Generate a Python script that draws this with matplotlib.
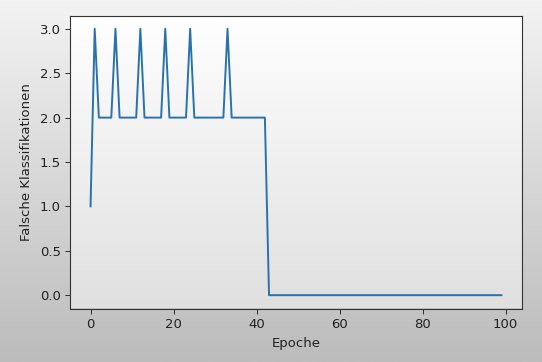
import numpy as np
import matplotlib
matplotlib.use("Agg")
import matplotlib.pyplot as plt
from matplotlib.colors import LinearSegmentedColormap

# Data: misclassifications per epoch (0..99)
epochs = list(range(100))
errors = [1, 3, 2, 2, 2, 2, 3, 2, 2, 2,
          2, 2, 3, 2, 2, 2, 2, 2, 3, 2,
          2, 2, 2, 2, 3, 2, 2, 2, 2, 2,
          2, 2, 2, 3, 2, 2, 2, 2, 2, 2,
          2, 2, 2, 0, 0, 0, 0, 0, 0, 0,
          0, 0, 0, 0, 0, 0, 0, 0, 0, 0,
          0, 0, 0, 0, 0, 0, 0, 0, 0, 0,
          0, 0, 0, 0, 0, 0, 0, 0, 0, 0,
          0, 0, 0, 0, 0, 0, 0, 0, 0, 0,
          0, 0, 0, 0, 0, 0, 0, 0, 0, 0]
x_label = "Epoche"
y_label = "Falsche Klassifikationen"

W, H = 542, 362
fig = plt.figure(figsize=(W / 100, H / 100), dpi=100)

# screenshot-like gradient background
grad = np.linspace(0, 1, 256).reshape(-1, 1)
bg = fig.add_axes([0, 0, 1, 1], zorder=-2)
bg.imshow(grad, aspect="auto", extent=[0, 1, 0, 1],
          cmap=LinearSegmentedColormap.from_list("o", ["#f3f3f3", "#bcbcbc"]))
bg.axis("off")

pos = [70 / W, (H - 308.5) / H, 452 / W, 293 / H]
bg2 = fig.add_axes(pos, zorder=-1)
bg2.imshow(grad, aspect="auto", extent=[0, 1, 0, 1],
           cmap=LinearSegmentedColormap.from_list("i", ["#ffffff", "#e0e0e0"]))
bg2.axis("off")

ax = fig.add_axes(pos)
ax.set_facecolor("none")
ax.plot(epochs, errors, color="#2a72ad", linewidth=1.4)
ax.set_xlabel(x_label, fontsize=9.5, color="#222222", labelpad=4.5)
ax.set_ylabel(y_label, fontsize=9.5, color="#222222", labelpad=4.5)
ax.set_xticks([0, 20, 40, 60, 80, 100])
ax.set_yticks([0.0, 0.5, 1.0, 1.5, 2.0, 2.5, 3.0])
ax.tick_params(labelsize=9.5, labelcolor="#222222", color="#333333",
               length=3.3, width=0.75, pad=3.3)
for s in ax.spines.values():
    s.set_linewidth(0.8)
    s.set_color("#333333")

fig.savefig("out.png", dpi=100)
